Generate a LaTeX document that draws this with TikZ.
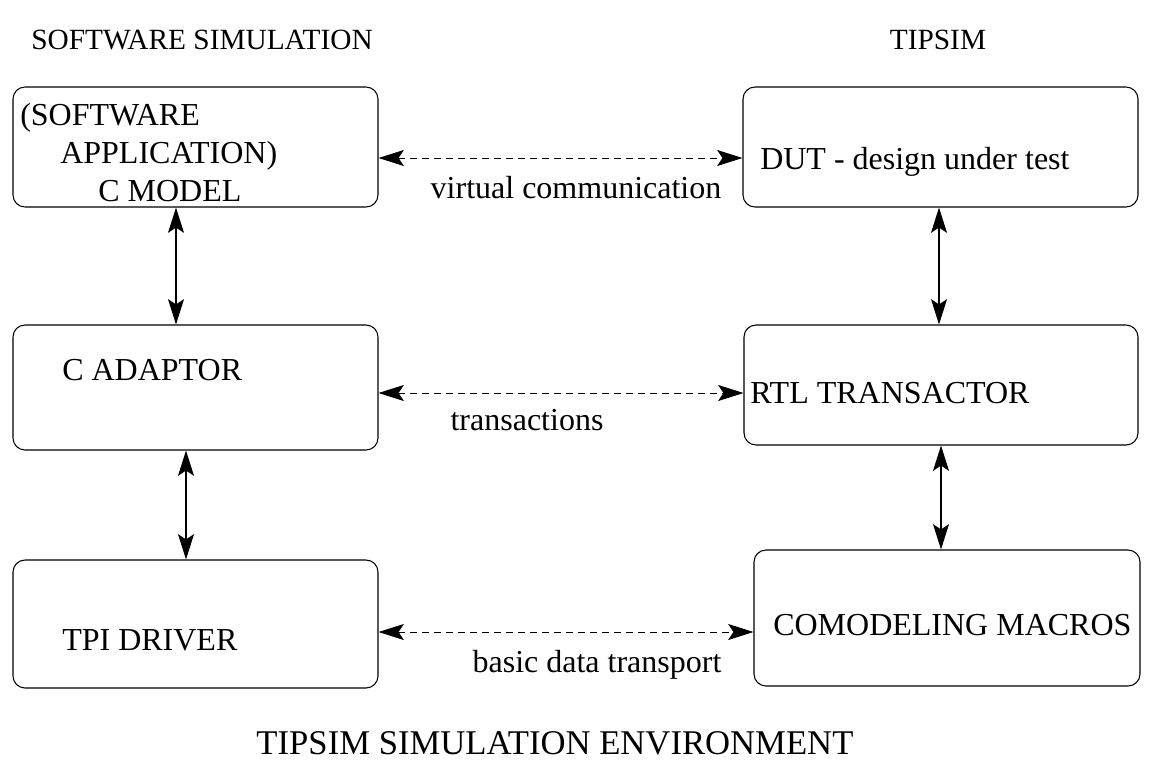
\documentclass[tikz,border=0pt]{standalone}
\usepackage{fontspec}
\setmainfont{Liberation Serif}
\usetikzlibrary{arrows.meta,fit}

\begin{document}
\begin{tikzpicture}[x=0.75pt,y=-0.75pt,
    blk/.style={draw,rounded corners=9pt,line width=0.8pt,inner sep=0pt},
    txt/.style={font=\fontsize{24}{28}\selectfont,inner sep=0pt},
    link/.style={{Stealth[length=19pt,width=12pt,inset=4pt]}-{Stealth[length=19pt,width=12pt,inset=4pt]},line width=0.8pt},
    virt/.style={link,dash pattern=on 5pt off 4pt,line width=0.6pt}]
    \useasboundingbox (0,0) rectangle (1155,771);
    % titles
    \node [txt,font=\fontsize{22}{26}\selectfont] (swsim) at (202,40) {SOFTWARE SIMULATION};
    \node [txt,font=\fontsize{22}{26}\selectfont] (tipsim) at (938,40) {TIPSIM};
    \node [txt,font=\fontsize{26}{30}\selectfont] (env) at (555,743) {TIPSIM SIMULATION ENVIRONMENT};
    % left column
    \node [blk,fit={(13,87) (378,207)}] (cmodel) {};
    \node [blk,fit={(13,325) (378,450)}] (cadaptor) {};
    \node [blk,fit={(13,560) (378,688)}] (tpi) {};
    \node [txt,anchor=west] (cmodelA) at (20,118) {(SOFTWARE};
    \node [txt,anchor=west] (cmodelB) at (60,156) {APPLICATION)};
    \node [txt,anchor=west] (cmodelC) at (98,191) {C MODEL};
    \node [txt,anchor=west] (cadaptortxt) at (62,370) {C ADAPTOR};
    \node [txt,anchor=west] (tpitxt) at (62,640) {TPI DRIVER};
    % right column
    \node [blk,fit={(743,87) (1138,207)}] (dut) {};
    \node [blk,fit={(744,325) (1138,445)}] (rtl) {};
    \node [blk,fit={(754,550) (1140,686)}] (macros) {};
    \node [txt,anchor=west] (duttxt) at (760,162) {DUT - design under test};
    \node [txt,anchor=west] (rtltxt) at (750,393) {RTL TRANSACTOR};
    \node [txt,anchor=west] (macrostxt) at (773,625) {COMODELING MACROS};
    % vertical links
    \draw [link] (cmodel.south -| 176,0) -- (cadaptor.north -| 176,0);
    \draw [link] (cadaptor.south -| 186,0) -- (tpi.north -| 186,0);
    \draw [link] (dut.south -| 939,0) -- (rtl.north -| 939,0);
    \draw [link] (rtl.south -| 941,0) -- (macros.north -| 941,0);
    % horizontal links
    \draw [virt] (cmodel.east |- 0,158) -- (dut.west |- 0,158);
    \draw [virt] (cadaptor.east |- 0,393) -- (rtl.west |- 0,393);
    \draw [virt] (tpi.east |- 0,632) -- (macros.west |- 0,632);
    \node [txt] (vcom) at (576,188) {virtual communication};
    \node [txt] (trans) at (527,420) {transactions};
    \node [txt] (basic) at (597,665) {basic data transport};
\end{tikzpicture}
\end{document}
